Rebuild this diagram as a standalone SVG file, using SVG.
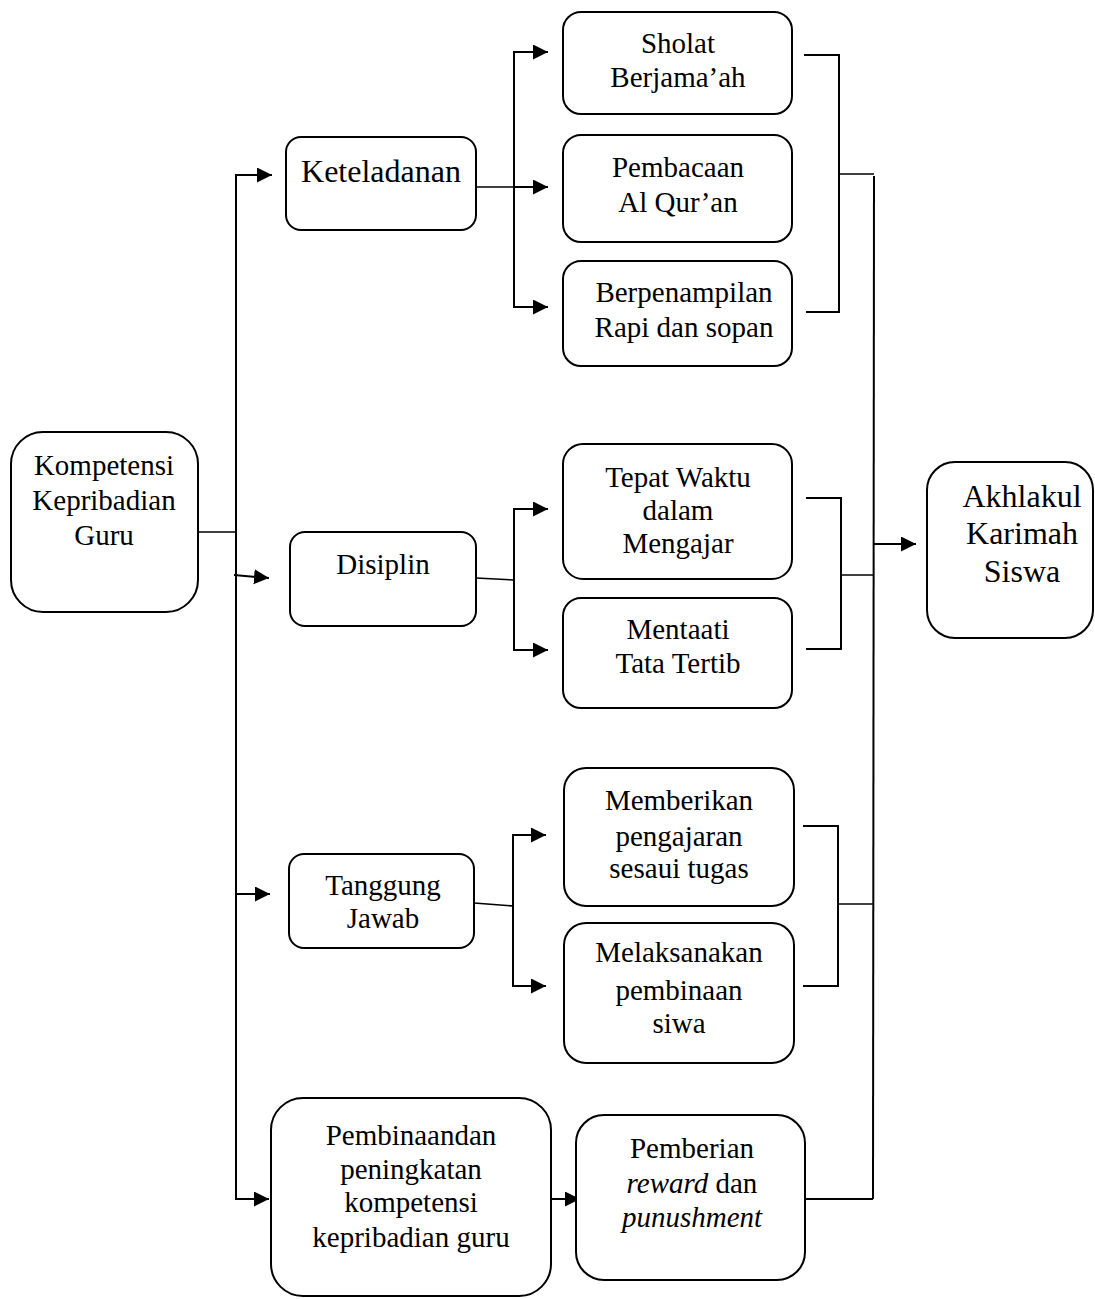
<svg xmlns="http://www.w3.org/2000/svg" width="1095" height="1299" viewBox="0 0 1095 1299">
<style>
.box{fill:#fff;stroke:#000;stroke-width:2}
.t{font-family:"Liberation Serif","Times New Roman",serif;font-size:29px;fill:#000;text-anchor:middle}
.tl{font-size:32px}
.ln{fill:none;stroke:#000;stroke-width:2}
.thin{fill:none;stroke:#000;stroke-width:1.6}
</style>
<defs>
<marker id="ah" markerUnits="userSpaceOnUse" markerWidth="16" markerHeight="16" refX="15" refY="7.5" orient="auto">
<path d="M0,0 L15,7.5 L0,15 Z" fill="#000"/>
</marker>
</defs>
<rect width="1095" height="1299" fill="#fff"/>
<g id="connectors">
<!-- trunk -->
<line class="ln" x1="236" y1="175" x2="236" y2="1199"/>
<line class="thin" x1="198" y1="532" x2="236" y2="532"/>
<line class="ln" x1="235" y1="175" x2="272" y2="175" marker-end="url(#ah)"/>
<line class="ln" x1="234" y1="575" x2="269" y2="578" marker-end="url(#ah)"/>
<line class="ln" x1="235" y1="894" x2="270" y2="894" marker-end="url(#ah)"/>
<line class="ln" x1="235" y1="1199" x2="269" y2="1199" marker-end="url(#ah)"/>
<!-- Keteladanan branch -->
<line class="ln" x1="514" y1="52" x2="514" y2="307"/>
<line class="ln" x1="513" y1="52" x2="548" y2="52" marker-end="url(#ah)"/>
<line class="thin" x1="476" y1="187" x2="514" y2="187"/>
<line class="ln" x1="514" y1="187" x2="548" y2="187" marker-end="url(#ah)"/>
<line class="ln" x1="513" y1="307" x2="548" y2="307" marker-end="url(#ah)"/>
<!-- Disiplin branch -->
<line class="thin" x1="476" y1="578" x2="514" y2="580"/>
<line class="ln" x1="514" y1="509" x2="514" y2="650"/>
<line class="ln" x1="513" y1="509" x2="548" y2="509" marker-end="url(#ah)"/>
<line class="ln" x1="513" y1="650" x2="548" y2="650" marker-end="url(#ah)"/>
<!-- Tanggung Jawab branch -->
<line class="thin" x1="474" y1="903" x2="513" y2="906"/>
<line class="ln" x1="513" y1="835" x2="513" y2="986"/>
<line class="ln" x1="512" y1="835" x2="546" y2="835" marker-end="url(#ah)"/>
<line class="ln" x1="512" y1="986" x2="546" y2="986" marker-end="url(#ah)"/>
<!-- brackets -->
<polyline class="ln" points="804,55 839,55 839,312 806,312"/>
<line class="thin" x1="839" y1="174" x2="874" y2="174"/>
<polyline class="ln" points="806,498 841,498 841,649 806,649"/>
<line class="thin" x1="841" y1="575" x2="874" y2="575"/>
<polyline class="ln" points="803,826 838,826 838,986 803,986"/>
<line class="thin" x1="838" y1="904" x2="873" y2="904"/>
<!-- main right vertical -->
<line class="ln" x1="874" y1="176" x2="873" y2="1199"/>
<line class="ln" x1="874" y1="544" x2="916" y2="544" marker-end="url(#ah)"/>
<!-- bottom -->
<line class="ln" x1="546" y1="1199" x2="580" y2="1199" marker-end="url(#ah)"/>
<line class="ln" x1="805" y1="1199" x2="873" y2="1199"/>
</g>
<g id="kompetensi">
<rect class="box" x="11" y="432" width="187" height="180" rx="32"/>
<text class="t" x="104" y="475">Kompetensi</text>
<text class="t" x="104" y="510">Kepribadian</text>
<text class="t" x="104" y="545">Guru</text>
</g>
<g id="keteladanan">
<rect class="box" x="286" y="137" width="190" height="93" rx="15"/>
<text class="t tl" x="381" y="182">Keteladanan</text>
</g>
<g id="sholat">
<rect class="box" x="563" y="12" width="229" height="102" rx="18"/>
<text class="t" x="678" y="53">Sholat</text>
<text class="t" x="678" y="87">Berjama’ah</text>
</g>
<g id="pembacaan">
<rect class="box" x="563" y="135" width="229" height="107" rx="18"/>
<text class="t" x="678" y="177">Pembacaan</text>
<text class="t" x="678" y="212">Al Qur’an</text>
</g>
<g id="berpenampilan">
<rect class="box" x="563" y="261" width="229" height="105" rx="18"/>
<text class="t" x="684" y="302">Berpenampilan</text>
<text class="t" x="684" y="337">Rapi dan sopan</text>
</g>
<g id="disiplin">
<rect class="box" x="290" y="532" width="186" height="94" rx="15"/>
<text class="t" x="383" y="574">Disiplin</text>
</g>
<g id="tepat">
<rect class="box" x="563" y="444" width="229" height="135" rx="20"/>
<text class="t" x="678" y="487">Tepat Waktu</text>
<text class="t" x="678" y="520">dalam</text>
<text class="t" x="678" y="553">Mengajar</text>
</g>
<g id="mentaati">
<rect class="box" x="563" y="598" width="229" height="110" rx="18"/>
<text class="t" x="678" y="639">Mentaati</text>
<text class="t" x="678" y="673">Tata Tertib</text>
</g>
<g id="akhlakul">
<rect class="box" x="927" y="462" width="166" height="176" rx="28"/>
<text class="t tl" x="1022" y="507">Akhlakul</text>
<text class="t tl" x="1022" y="544">Karimah</text>
<text class="t tl" x="1022" y="582">Siswa</text>
</g>
<g id="tanggung">
<rect class="box" x="289" y="854" width="185" height="94" rx="15"/>
<text class="t" x="383" y="895">Tanggung</text>
<text class="t" x="383" y="928">Jawab</text>
</g>
<g id="memberikan">
<rect class="box" x="564" y="768" width="230" height="138" rx="22"/>
<text class="t" x="679" y="810">Memberikan</text>
<text class="t" x="679" y="846">pengajaran</text>
<text class="t" x="679" y="878">sesaui tugas</text>
</g>
<g id="melaksanakan">
<rect class="box" x="564" y="923" width="230" height="140" rx="22"/>
<text class="t" x="679" y="962">Melaksanakan</text>
<text class="t" x="679" y="1000">pembinaan</text>
<text class="t" x="679" y="1033">siwa</text>
</g>
<g id="pembinaan">
<rect class="box" x="271" y="1098" width="280" height="198" rx="32"/>
<text class="t" x="411" y="1145">Pembinaandan</text>
<text class="t" x="411" y="1179">peningkatan</text>
<text class="t" x="411" y="1212">kompetensi</text>
<text class="t" x="411" y="1247">kepribadian guru</text>
</g>
<g id="pemberian">
<rect class="box" x="576" y="1115" width="229" height="165" rx="28"/>
<text class="t" x="692" y="1158">Pemberian</text>
<text class="t" x="692" y="1193"><tspan font-style="italic">reward</tspan> dan</text>
<text class="t" x="692" y="1227" font-style="italic">punushment</text>
</g>
</svg>
